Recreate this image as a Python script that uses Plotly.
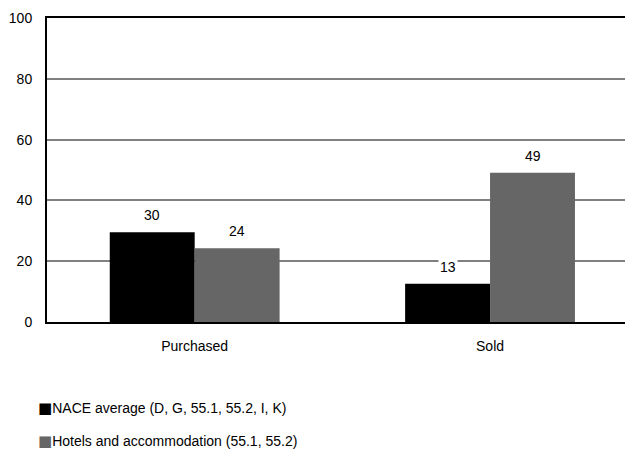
import plotly.graph_objects as go

categories = ["Purchased", "Sold"]
series_names = ["NACE average (D, G, 55.1, 55.2, I, K)", "Hotels and accommodation (55.1, 55.2)"]
nace_values = [29.5, 12.6]
hotels_values = [24.3, 49.1]
series_values = [nace_values, hotels_values]
colors = ["#000000", "#666666"]
y_ticks = [0, 20, 40, 60, 80, 100]

FONT = "Liberation Sans, Arial, sans-serif"

fig = go.Figure()
for name, vals, col in zip(series_names, series_values, colors):
    fig.add_trace(go.Bar(x=categories, y=vals, name=name, marker=dict(color=col, line=dict(width=0)),
                         showlegend=False))

# value labels
bar_px = 85
for j, vals in enumerate(series_values):
    for cat, v in zip(categories, vals):
        fig.add_annotation(x=cat, y=v, xref="x", yref="y", text=f"{v:.0f}", showarrow=False,
                           xshift=(j - 0.5) * bar_px, yshift=17, yanchor="middle",
                           bgcolor="white", borderpad=1,
                           font=dict(family=FONT, size=14, color="#000000"))

# legend entries
for i, (name, col) in enumerate(zip(series_names, colors)):
    fig.add_annotation(x=-0.019, y=-0.283 - i * 0.108, xref="paper", yref="paper", xanchor="left",
                       yanchor="middle", showarrow=False,
                       text=(f"<span style='font-family:DejaVu Sans;font-size:15px;color:{col}'>■</span>"
                             f"{name}"),
                       font=dict(family=FONT, size=14, color="#000000"))

fig.update_layout(
    width=625, height=444,
    margin=dict(l=39, r=0, t=10, b=130, autoexpand=False),
    paper_bgcolor="white", plot_bgcolor="white",
    barmode="group", bargap=0.425, bargroupgap=0,
    font=dict(family=FONT, size=14, color="#000000"),
    xaxis=dict(type="category", range=[-0.5, 1.484], showline=True, linecolor="#000000", linewidth=2,
               mirror=True, ticks="", showgrid=False, ticklabelstandoff=10, fixedrange=True),
    yaxis=dict(range=[0, 100], tickvals=y_ticks, showgrid=True, gridcolor="#808080", gridwidth=2,
               showline=True, linecolor="#000000", linewidth=2, zeroline=False, ticks="",
               ticklabelstandoff=10, fixedrange=True),
)

fig.write_html("out.html")
